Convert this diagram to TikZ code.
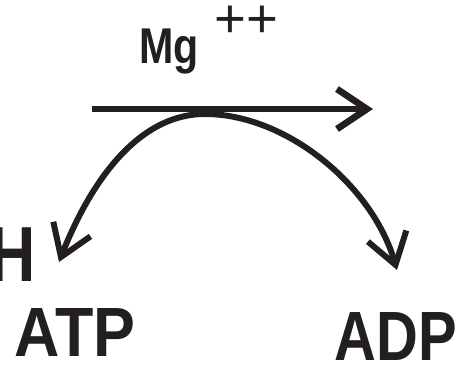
\documentclass[tikz,border=0pt]{standalone}
\usepackage{fontspec}
\setmainfont{Liberation Sans}
\usetikzlibrary{arrows.meta}
\definecolor{ink}{RGB}{35,31,32}

\begin{document}
\begin{tikzpicture}[x=0.02cm,y=-0.02cm,>={Straight Barb[length=0.6cm,width=0.8cm]},
  lbl/.style={inner sep=0pt,text=ink,text depth=0pt},
  big/.style={lbl,text height=28pt,font=\fontsize{39.7}{40}\selectfont\bfseries}]
  \useasboundingbox (0,0) rectangle (457,366);
  \clip (0,0) rectangle (457,366);
  % labels
  \node[lbl,anchor=base west,xscale=0.82,text height=20pt,font=\fontsize{28.6}{30}\selectfont\bfseries] (mg) at (139,63) {Mg};
  \node[lbl,anchor=base,text height=18pt,font=\fontsize{31}{32}\selectfont] (plus) at (246,37) {++};
  \node[lbl,anchor=base east,xscale=0.82,text height=31pt,font=\fontsize{44.5}{45}\selectfont\bfseries] (h) at (36,281) {H};
  \node[big,anchor=base,xscale=0.9] (atp) at (75,356) {ATP};
  \node[big,anchor=base,xscale=0.83] (adp) at (396,360) {ADP};
  % arrows
  \coordinate (left) at (92,109);
  \coordinate (right) at (373,109);
  \draw[->,ink,line width=3.8pt] (left) -- (right);
  \coordinate (atpend) at (59,262);
  \coordinate (apex) at (205,114);
  \coordinate (adpend) at (397,270);
  \draw[<->,ink,line width=3.4pt] (atpend) .. controls (88,188) and (135,114) .. (apex)
    .. controls (285,114) and (372,184) .. (adpend);
\end{tikzpicture}
\end{document}
